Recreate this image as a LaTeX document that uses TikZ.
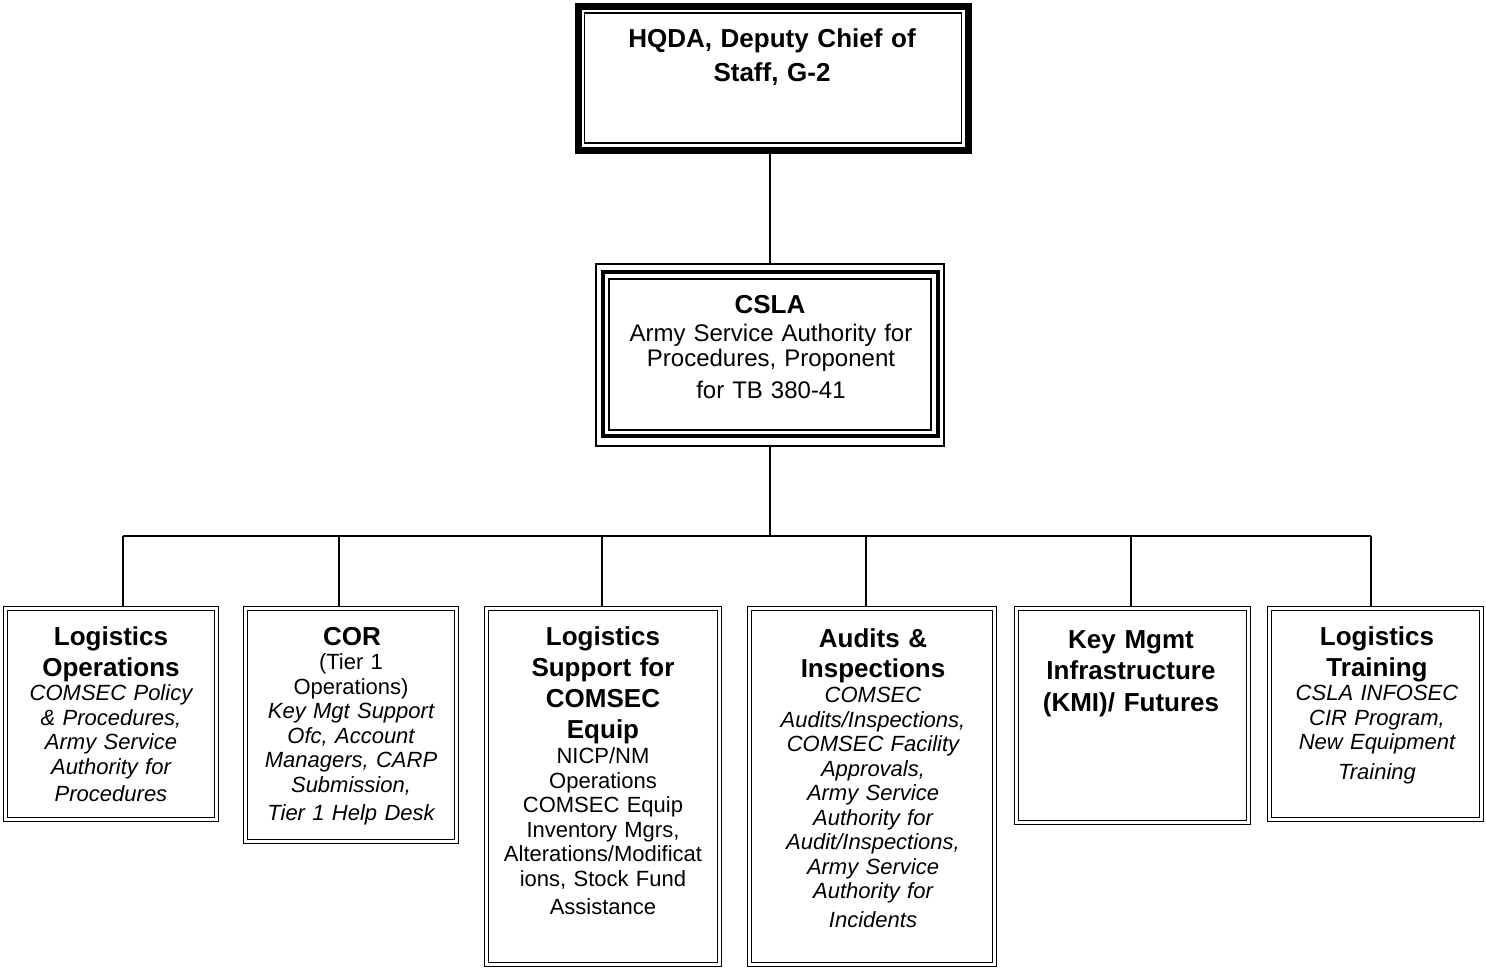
\documentclass[tikz,border=0pt]{standalone}
\usepackage{fontspec}
\setmainfont{Liberation Sans}
\begin{document}
\begin{tikzpicture}[x=1pt,y=-1pt,
  conn/.style={line width=1.6pt},
  dbox/.style={draw, double, double distance=2.3pt, line width=1.4pt, fill=white, inner sep=0pt},
  ttl/.style={anchor=base, align=center, text width=#1, inner sep=0pt, font=\fontsize{26}{31.5}\selectfont\bfseries},
  bdy/.style={anchor=base, align=center, text width=#1, inner sep=0pt, font=\fontsize{22}{24.5}\selectfont},
]
\useasboundingbox (0,0) rectangle (1486,969);

% ---- boxes (geometry) ----
\coordinate (topc) at (773.5,78.5);
\coordinate (cslac) at (770,355);
\coordinate (bus) at (770,536);
\coordinate (d1) at (123,536);
\coordinate (d2) at (339,536);
\coordinate (d3) at (602,536);
\coordinate (d4) at (866,536);
\coordinate (d5) at (1131,536);
\coordinate (d6) at (1371,536);

% ---- nodes (drawn empty, text separately) ----
\node[draw=none, minimum width=390pt, minimum height=144pt, inner sep=0pt] (top) at (topc) {};
\node[draw=none, minimum width=348pt, minimum height=182pt, inner sep=0pt] (csla) at (cslac) {};
\node[draw=none, minimum width=210.5pt, minimum height=210.5pt, inner sep=0pt] (b1) at (111,714) {};
\node[draw=none, minimum width=210.5pt, minimum height=232.5pt, inner sep=0pt] (b2) at (351,725) {};
\node[draw=none, minimum width=232.5pt, minimum height=355.5pt, inner sep=0pt] (b3) at (603,786.5) {};
\node[draw=none, minimum width=244.5pt, minimum height=355.5pt, inner sep=0pt] (b4) at (872,786.5) {};
\node[draw=none, minimum width=231.5pt, minimum height=213.5pt, inner sep=0pt] (b5) at (1132.5,715.5) {};
\node[draw=none, minimum width=211.5pt, minimum height=210.5pt, inner sep=0pt] (b6) at (1375.5,714) {};

% ---- connectors ----
\draw[conn] (top.south -| csla.north) -- (csla.north);
\draw[conn] (csla.south) -- (bus);
\draw[conn] (d1) -- (d6);
\draw[conn] (d1) -- (d1 |- b1.north);
\draw[conn] (d2) -- (d2 |- b2.north);
\draw[conn] (d3) -- (d3 |- b3.north);
\draw[conn] (d4) -- (d4 |- b4.north);
\draw[conn] (d5) -- (d5 |- b5.north);
\draw[conn] (d6) -- (d6 |- b6.north);

% ---- frames ----
\draw[line width=6.5pt, fill=white] (top.north west) rectangle (top.south east);
\draw[line width=1.5pt] ([xshift=6pt,yshift=-6.5pt]top.north west) rectangle ([xshift=-7pt,yshift=7.5pt]top.south east);

\draw[line width=2pt, fill=white] (csla.north west) rectangle (csla.south east);
\draw[line width=4pt] ([xshift=7pt,yshift=-8pt]csla.north west) rectangle ([xshift=-6pt,yshift=10pt]csla.south east);
\draw[line width=2pt] ([xshift=13.5pt,yshift=-15pt]csla.north west) rectangle ([xshift=-13pt,yshift=16.5pt]csla.south east);

\foreach \b in {b1,b2,b3,b4,b5,b6}
  \draw[dbox] (\b.north west) rectangle (\b.south east);

% ---- texts ----
\node[anchor=base, align=center, text width=380pt, inner sep=0pt, font=\fontsize{26}{34}\selectfont\bfseries] (toptxt) at (772,47.3)
  {HQDA, Deputy Chief of\\Staff, G-2};

\node[ttl=300pt] (cslat) at (770,313.3) {CSLA};
\node[anchor=base, align=center, text width=320pt, inner sep=0pt, font=\fontsize{24}{25}\selectfont] (cslab) at (771,341.6)
  {Army Service Authority for\\Procedures, Proponent\\[7pt]for TB 380-41};

\node[ttl=205pt] (t1) at (111,645.3) {Logistics\\Operations};
\node[bdy=205pt, font=\fontsize{22}{24.5}\selectfont\itshape] (x1) at (111,700.9)
  {COMSEC Policy\\\& Procedures,\\Army Service\\Authority for\\[3pt]Procedures};

\node[ttl=205pt] (t2) at (352,645.3) {COR};
\node[bdy=205pt] (x2) at (351,669.9)
  {(Tier 1\\Operations)\\\itshape Key Mgt Support\\Ofc, Account\\Managers, CARP\\Submission,\\[3.5pt]Tier 1 Help Desk};

\node[ttl=228pt, font=\fontsize{26}{31}\selectfont\bfseries] (t3) at (603,645.3) {Logistics\\Support for\\COMSEC\\Equip};
\node[bdy=228pt] (x3) at (603,763.9)
  {NICP/NM\\Operations\\COMSEC Equip\\Inventory Mgrs,\\Alterations/Modificat\\ions, Stock Fund\\[3.5pt]Assistance};

\node[ttl=240pt, font=\fontsize{26}{30}\selectfont\bfseries] (t4) at (873,647.3) {Audits \&\\Inspections};
\node[bdy=240pt, font=\fontsize{22}{24.5}\selectfont\itshape] (x4) at (873,702.9)
  {COMSEC\\Audits/Inspections,\\COMSEC Facility\\Approvals,\\Army Service\\Authority for\\Audit/Inspections,\\Army Service\\Authority for\\[4.5pt]Incidents};

\node[ttl=228pt] (t5) at (1131,648.3) {Key Mgmt\\Infrastructure\\(KMI)/ Futures};

\node[ttl=205pt] (t6) at (1377,645.3) {Logistics\\Training};
\node[bdy=205pt, font=\fontsize{22}{24.5}\selectfont\itshape] (x6) at (1377,700.9)
  {CSLA INFOSEC\\CIR Program,\\New Equipment\\[5pt]Training};
\end{tikzpicture}
\end{document}
